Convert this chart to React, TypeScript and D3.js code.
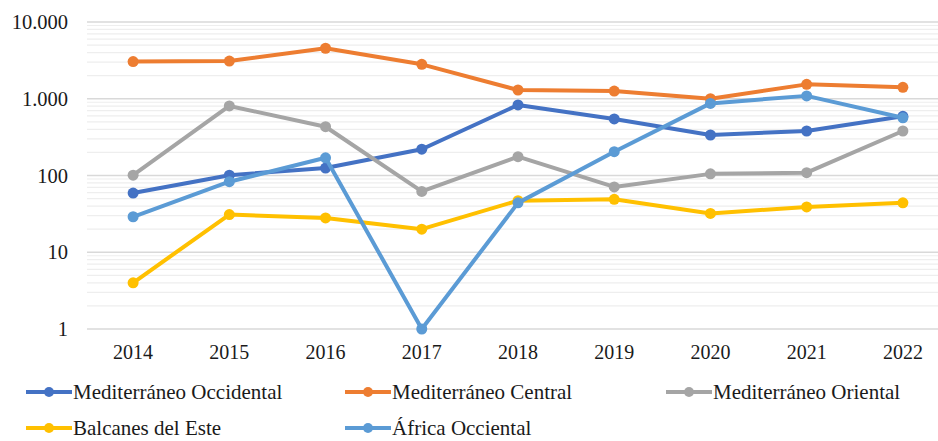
import React from "react";
import * as d3 from "d3";

const years = ["2014", "2015", "2016", "2017", "2018", "2019", "2020", "2021", "2022"];
const medOccidental = [59, 101, 125, 220, 830, 545, 337, 380, 590];
const medCentral = [3050, 3100, 4550, 2810, 1300, 1260, 1000, 1540, 1410];
const medOriental = [101, 805, 432, 62, 176, 71, 105, 109, 380];
const balcanes = [4, 31, 28, 20, 47, 49, 32, 39, 44];
const africaOcc = [29, 83, 170, 1, 44, 204, 870, 1090, 565];
const yTickValues = [1, 10, 100, 1000, 10000];
const yTickLabels = ["1", "10", "100", "1.000", "10.000"];

const seriesNames = [
  "Mediterráneo Occidental",
  "Mediterráneo Central",
  "Mediterráneo Oriental",
  "Balcanes del Este",
  "África Occiental",
];
const seriesColors = ["#4472C4", "#ED7D31", "#A5A5A5", "#FFC000", "#5B9BD5"];
const seriesData = [medOccidental, medCentral, medOriental, balcanes, africaOcc];

const W = 938;
const H = 441;
const left = 85;
const right = 951;
const top = 22;
const bottom = 329;
const font = "'Liberation Serif', 'Times New Roman', serif";

export default function App() {
  const x = d3.scaleBand<string>().domain(years).range([left, right]);
  const y = d3.scaleLog().domain([1, 10000]).range([bottom, top]);
  const line = d3
    .line<number>()
    .x((_, i) => (x(years[i]) as number) + x.bandwidth() / 2)
    .y((d) => y(d));

  const minor: number[] = [];
  for (let dec = 1; dec < 10000; dec *= 10) {
    for (let k = 2; k <= 9; k++) minor.push(dec * k);
  }

  const legendItems = [
    { i: 0, sx: 26, row: 0 },
    { i: 1, sx: 345, row: 0 },
    { i: 2, sx: 666, row: 0 },
    { i: 3, sx: 26, row: 1 },
    { i: 4, sx: 345, row: 1 },
  ];

  return (
    <svg width={W} height={H} style={{ position: "absolute", left: 0, top: 0, background: "#fff" }}>
      <rect width={W} height={H} fill="#fff" />
      {minor.map((v) => (
        <line key={"m" + v} x1={left + 2} x2={W} y1={y(v)} y2={y(v)} stroke="#eeeeee" strokeWidth={1.2} />
      ))}
      {yTickValues.map((v) => (
        <line key={"g" + v} x1={left + 2} x2={W} y1={y(v)} y2={y(v)} stroke="#d9d9d9" strokeWidth={1.6} />
      ))}
      {yTickValues.map((v, i) => (
        <text key={"t" + v} x={68} y={y(v)} dy="0.35em" textAnchor="end" fontFamily={font} fontSize={20.5} fill="#1a1a1a">
          {yTickLabels[i]}
        </text>
      ))}
      {years.map((yr) => (
        <text key={yr} x={(x(yr) as number) + x.bandwidth() / 2} y={359} textAnchor="middle" fontFamily={font} fontSize={20} fill="#1a1a1a">
          {yr}
        </text>
      ))}
      {seriesData.map((data, si) => (
        <g key={si}>
          <path d={line(data) || ""} fill="none" stroke={seriesColors[si]} strokeWidth={4} strokeLinejoin="round" strokeLinecap="round" />
          {data.map((v, i) => (
            <circle key={i} cx={(x(years[i]) as number) + x.bandwidth() / 2} cy={y(v)} r={5.5} fill={seriesColors[si]} />
          ))}
        </g>
      ))}
      {legendItems.map(({ i, sx, row }) => {
        const cy = row === 0 ? 392 : 428;
        return (
          <g key={"l" + i}>
            <line x1={sx} x2={sx + 46} y1={cy} y2={cy} stroke={seriesColors[i]} strokeWidth={4} />
            <circle cx={sx + 23} cy={cy} r={5} fill={seriesColors[i]} />
            <text x={sx + 47} y={cy} dy="0.33em" fontFamily={font} fontSize={21} fill="#1a1a1a">
              {seriesNames[i]}
            </text>
          </g>
        );
      })}
    </svg>
  );
}
